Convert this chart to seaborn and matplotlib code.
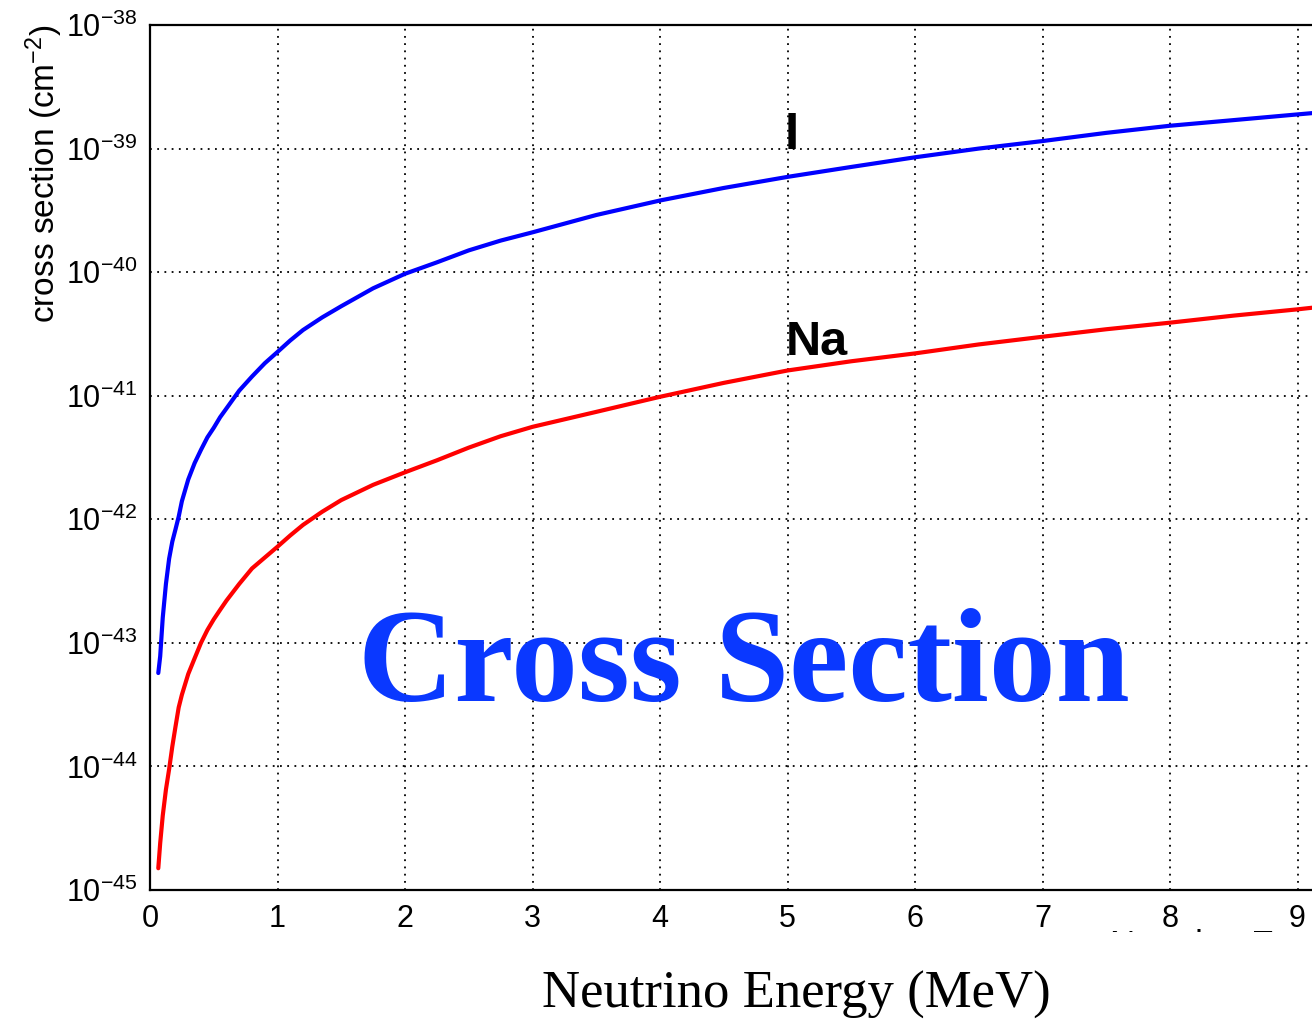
import numpy as np
import pandas as pd
import matplotlib
matplotlib.use("Agg")
import matplotlib.pyplot as plt
import matplotlib.ticker as mticker
from matplotlib.patches import Rectangle
import seaborn as sns

# Neutrino energy grid (MeV) and coherent cross sections (cm^2)
energy_mev = [0.065, 0.08, 0.1, 0.125, 0.15, 0.175, 0.2, 0.225, 0.25, 0.3,
              0.35, 0.4, 0.45, 0.5, 0.55, 0.6, 0.7, 0.8, 0.9, 1.0, 1.1, 1.2,
              1.35, 1.5, 1.75, 2.0, 2.25, 2.5, 2.75, 3.0, 3.5, 4.0, 4.5, 5.0,
              5.5, 6.0, 6.5, 7.0, 7.5, 8.0, 8.5, 9.0, 9.15]
xsec_iodine = [5.7e-44, 7.8e-44, 1.6e-43, 3.0e-43, 4.8e-43, 6.6e-43, 8.3e-43,
               1.05e-42, 1.4e-42, 2.1e-42, 2.85e-42, 3.65e-42, 4.6e-42, 5.5e-42,
               6.7e-42, 7.9e-42, 1.1e-41, 1.43e-41, 1.83e-41, 2.26e-41, 2.8e-41,
               3.4e-41, 4.3e-41, 5.3e-41, 7.4e-41, 9.7e-41, 1.2e-40, 1.5e-40,
               1.8e-40, 2.1e-40, 2.9e-40, 3.8e-40, 4.8e-40, 5.9e-40, 7.1e-40,
               8.5e-40, 1.0e-39, 1.15e-39, 1.34e-39, 1.53e-39, 1.7e-39, 1.89e-39,
               1.95e-39]
xsec_sodium = [1.5e-45, 2.4e-45, 4.0e-45, 6.5e-45, 9.5e-45, 1.45e-44, 2.1e-44,
               3.0e-44, 3.8e-44, 5.6e-44, 7.5e-44, 1.0e-43, 1.27e-43, 1.55e-43,
               1.85e-43, 2.2e-43, 3.0e-43, 4.0e-43, 4.9e-43, 6.0e-43, 7.4e-43,
               9.0e-43, 1.15e-42, 1.43e-42, 1.9e-42, 2.4e-42, 3.0e-42, 3.8e-42,
               4.7e-42, 5.6e-42, 7.4e-42, 9.8e-42, 1.27e-41, 1.6e-41, 1.9e-41,
               2.2e-41, 2.6e-41, 3.0e-41, 3.45e-41, 3.9e-41, 4.45e-41, 5.0e-41,
               5.2e-41]
nuclei = ["I", "Na"]
nucleus_colors = {"I": "#0000ff", "Na": "#ff0000"}
x_ticks = [0, 1, 2, 3, 4, 5, 6, 7, 8, 9]
y_decades = [1e-45, 1e-44, 1e-43, 1e-42, 1e-41, 1e-40, 1e-39, 1e-38]

df = pd.DataFrame({
    "energy": energy_mev * 2,
    "xsec": xsec_iodine + xsec_sodium,
    "nucleus": [nuclei[0]] * len(energy_mev) + [nuclei[1]] * len(energy_mev),
})

sns.set_style("white")
plt.rcParams["font.family"] = ["Liberation Sans", "DejaVu Sans"]
plt.rcParams["mathtext.fontset"] = "custom"
plt.rcParams["mathtext.rm"] = "Liberation Sans"
plt.rcParams["mathtext.it"] = "Liberation Sans:italic"
plt.rcParams["mathtext.bf"] = "Liberation Sans:bold"

W, H = 1312, 1027
fig = plt.figure(figsize=(W / 100, H / 100), dpi=100)
fig.patch.set_facecolor("white")
# frame: x from 0 to 10 MeV, the right part runs past the canvas edge
ax = fig.add_axes([150 / W, (H - 890) / H, 1275 / W, 865 / H])

sns.lineplot(data=df, x="energy", y="xsec", hue="nucleus", hue_order=nuclei,
             palette=nucleus_colors, linewidth=3.0, estimator=None, sort=False,
             legend=False, ax=ax)

ax.set_yscale("log")
ax.set_xlim(0, 10)
ax.set_ylim(1e-45, 1e-38)

minor_x = [i * 0.2 for i in range(50) if i % 5]
minor_y = [m * d for d in y_decades[:-1] for m in range(2, 10)]
ax.xaxis.set_major_locator(mticker.FixedLocator(x_ticks))
ax.xaxis.set_minor_locator(mticker.FixedLocator(minor_x))
ax.xaxis.set_major_formatter(mticker.FormatStrFormatter("%d"))
ax.yaxis.set_major_locator(mticker.FixedLocator(y_decades))
ax.yaxis.set_major_formatter(mticker.LogFormatterSciNotation())
ax.yaxis.set_minor_locator(mticker.FixedLocator(minor_y))
ax.yaxis.set_minor_formatter(mticker.NullFormatter())

ax.tick_params(axis="x", which="major", direction="in", length=19, width=1.4,
               labelsize=22, pad=10, color="black", labelcolor="black")
ax.tick_params(axis="x", which="minor", direction="in", length=10.5, width=1.4, color="black")
ax.tick_params(axis="y", which="major", direction="in", length=29, width=1.4,
               labelsize=22, pad=9, color="black", labelcolor="black")
ax.tick_params(axis="y", which="minor", direction="in", length=16, width=1.4, color="black")
ax.tick_params(top=False, right=False, which="both")

for side in ["left", "bottom", "top", "right"]:
    ax.spines[side].set_color("black")
    ax.spines[side].set_linewidth(1.6)

ax.grid(True, which="major", color="black", linestyle=(0, (1, 3)), linewidth=1.3)
ax.set_axisbelow("line")

ax.set_xlabel("")
ax.set_ylabel("cross section (cm$^{-2}$)", fontsize=24, loc="top", color="black")
ax.yaxis.set_label_coords(-85 / 1275, 1.0 + 1 / 865)

# curve labels
ax.text(4.98, 1e-39, "I", fontsize=37, fontweight="bold", ha="left", va="baseline", color="black")
ax.text(4.99, 2.14e-41, "Na", fontsize=35, fontweight="bold", ha="left", va="baseline", color="black")

# axis title of the frame, mostly masked below the tick labels
fig.text(1110 / W, (H - 929) / H, "Neutrino Energy", fontsize=25,
         ha="left", va="top", color="black", zorder=3)
fig.add_artist(Rectangle((1040 / W, (H - 968) / H), 280 / W, 36 / H,
                         transform=fig.transFigure, facecolor="white",
                         edgecolor="none", zorder=5))

# overlay title and energy caption
fig.text(744 / W, (H - 701) / H, "Cross Section", fontsize=96, fontweight="bold",
         family=["Liberation Serif", "DejaVu Serif"], color="#0a38ff",
         ha="center", va="baseline", zorder=6)
fig.text(796 / W, (H - 1008) / H, "Neutrino Energy (MeV)", fontsize=38,
         family=["Liberation Serif", "DejaVu Serif"], color="black",
         ha="center", va="baseline", zorder=6)

fig.savefig("out.png", dpi=100)
